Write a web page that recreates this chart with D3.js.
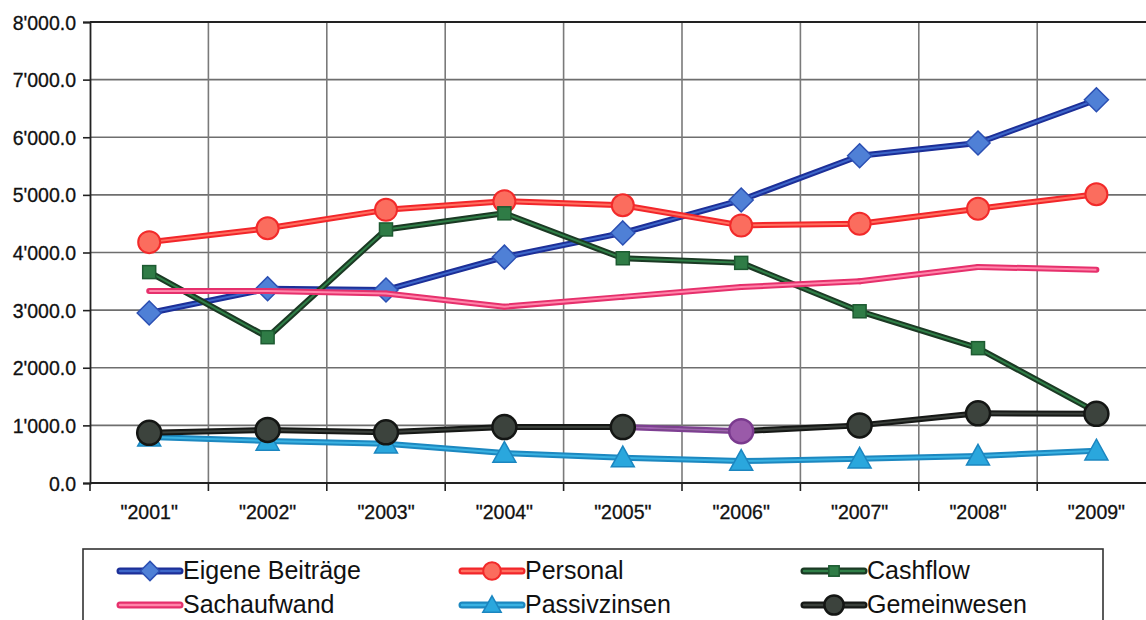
<!DOCTYPE html>
<html>
<head>
<meta charset="utf-8">
<script src="https://cdn.jsdelivr.net/npm/d3@7"></script>
<style>
  html, body { margin: 0; padding: 0; background: #fff; overflow: hidden; }
  svg { display: block; font-family: "Liberation Sans", Arial, sans-serif; }
</style>
</head>
<body>
<div id="chart"></div>
<script>
const width = 1146;
const height = 620;
const margin = { top: 22, right: -10, bottom: 137, left: 90 };

const usableArea = {
  top: margin.top,
  right: width - margin.right,
  bottom: height - margin.bottom,
  left: margin.left,
};

// chart values
const years = ["2001", "2002", "2003", "2004", "2005", "2006", "2007", "2008", "2009"];
const eigeneBeitraege = [2950, 3370, 3350, 3920, 4340, 4910, 5680, 5900, 6650];
const personal = [4180, 4420, 4740, 4890, 4820, 4470, 4500, 4760, 5010];
const cashflow = [3660, 2530, 4400, 4680, 3900, 3820, 2980, 2340, 1230];
const sachaufwand = [3330, 3330, 3290, 3060, 3230, 3400, 3500, 3750, 3700];
const passivzinsen = [800, 730, 680, 520, 440, 380, 420, 470, 560];
const gemeinwesen = [870, 920, 880, 970, 970, 900, 1000, 1210, 1200];
const gemeinwesenHighlight = ["2006"]; // point (and segment leading to it) drawn in purple
const yTicks = [0, 1000, 2000, 3000, 4000, 5000, 6000, 7000, 8000];

const series = [
  { name: "Eigene Beiträge", values: eigeneBeitraege, marker: "diamond",
    outer: "#1c2f98", inner: "#3d66c9", fill: "#4f80d6", stroke: "#2b4fb3" },
  { name: "Personal", values: personal, marker: "circle",
    outer: "#f2262a", inner: "#ff6f60", fill: "#fb6d5e", stroke: "#f22a2a" },
  { name: "Cashflow", values: cashflow, marker: "square",
    outer: "#1b3a24", inner: "#2f7f47", fill: "#2f7c46", stroke: "#1d5a31" },
  { name: "Sachaufwand", values: sachaufwand, marker: null,
    outer: "#e6306c", inner: "#ff85aa" },
  { name: "Passivzinsen", values: passivzinsen, marker: "triangle",
    outer: "#1c88c0", inner: "#3ab2e2", fill: "#2aa7dd", stroke: "#1b86c0" },
  { name: "Gemeinwesen", values: gemeinwesen, marker: "bigcircle",
    outer: "#161816", inner: "#3b403b", fill: "#3c433d", stroke: "#141614",
    hiOuter: "#7e3f92", hiInner: "#9f62b0", hiFill: "#9a5aa9", hiStroke: "#7a3a8e" },
];

const svg = d3.select("#chart")
  .append("svg")
  .attr("width", width)
  .attr("height", height)
  .attr("viewBox", `0 0 ${width} ${height}`);

const xScale = d3.scaleBand()
  .domain(years)
  .range([usableArea.left, usableArea.left + 9 * 118.4]);

const cx = (d) => xScale(d) + xScale.bandwidth() / 2;

const yScale = d3.scaleLinear()
  .domain([0, 8000])
  .range([usableArea.bottom, usableArea.top]);

const fmt = d3.formatLocale({ decimal: ".", thousands: "'", grouping: [3], currency: ["", ""] }).format(",.1f");

// gridlines
const grid = svg.append("g").attr("class", "grid");
grid.selectAll("line.h")
  .data(yTicks.filter((d) => d > 0 && d < 8000))
  .join("line")
  .attr("x1", usableArea.left).attr("x2", width)
  .attr("y1", (d) => yScale(d)).attr("y2", (d) => yScale(d))
  .attr("stroke", "#6e6e6e").attr("stroke-width", 1.6);

grid.selectAll("line.v")
  .data(years.slice(1))
  .join("line")
  .attr("x1", (d) => xScale(d)).attr("x2", (d) => xScale(d))
  .attr("y1", usableArea.top).attr("y2", usableArea.bottom)
  .attr("stroke", "#7a7a7a").attr("stroke-width", 1.6);

// top border
svg.append("line")
  .attr("x1", usableArea.left).attr("x2", width)
  .attr("y1", usableArea.top).attr("y2", usableArea.top)
  .attr("stroke", "#222").attr("stroke-width", 1.8);

// y axis
const yAxis = d3.axisLeft(yScale).tickValues(yTicks).tickFormat(fmt).tickSize(7).tickPadding(7);
const yg = svg.append("g")
  .attr("transform", `translate(${usableArea.left},0)`)
  .call(yAxis);
yg.select(".domain").attr("stroke", "#222").attr("stroke-width", 1.8);
yg.selectAll(".tick line").attr("stroke", "#222").attr("stroke-width", 1.6);
yg.selectAll("text").attr("fill", "#111").style("font-size", "19.5px")
  .attr("dy", "0.36em").attr("stroke", "#111").attr("stroke-width", 0.3);

// x axis
const xg = svg.append("g")
  .attr("transform", `translate(0,${usableArea.bottom})`);
xg.append("line")
  .attr("x1", usableArea.left).attr("x2", width)
  .attr("stroke", "#222").attr("stroke-width", 1.8);
xg.selectAll("line.tk")
  .data(years)
  .join("line")
  .attr("x1", (d) => xScale(d)).attr("x2", (d) => xScale(d))
  .attr("y1", 0).attr("y2", 8)
  .attr("stroke", "#222").attr("stroke-width", 1.6);
xg.selectAll("text")
  .data(years)
  .join("text")
  .attr("x", cx)
  .attr("y", 36)
  .attr("text-anchor", "middle")
  .attr("fill", "#111")
  .attr("stroke", "#111").attr("stroke-width", 0.3)
  .style("font-size", "19.5px")
  .text((d) => `"${d}"`);

// markers
function drawMarker(g, type, x, y, fill, stroke, scale = 1) {
  if (type === "diamond") {
    const s = 12 * scale;
    g.append("path")
      .attr("d", `M${x},${y - s}L${x + s},${y}L${x},${y + s}L${x - s},${y}Z`)
      .attr("fill", fill).attr("stroke", stroke).attr("stroke-width", 1.5);
  } else if (type === "circle") {
    g.append("circle").attr("cx", x).attr("cy", y).attr("r", 11 * scale)
      .attr("fill", fill).attr("stroke", stroke).attr("stroke-width", 2);
  } else if (type === "bigcircle") {
    g.append("circle").attr("cx", x).attr("cy", y).attr("r", 12 * scale)
      .attr("fill", fill).attr("stroke", stroke).attr("stroke-width", 2.5);
  } else if (type === "square") {
    const s = 6.5 * scale;
    g.append("rect").attr("x", x - s).attr("y", y - s).attr("width", 2 * s).attr("height", 2 * s)
      .attr("fill", fill).attr("stroke", stroke).attr("stroke-width", 1.5);
  } else if (type === "triangle") {
    const s = 11.5 * scale;
    g.append("path")
      .attr("d", `M${x},${y - s}L${x + s},${y + s * 0.8}L${x - s},${y + s * 0.8}Z`)
      .attr("fill", fill).attr("stroke", stroke).attr("stroke-width", 1.5);
  }
}

const plot = svg.append("g").attr("class", "series");
for (const s of series) {
  const g = plot.append("g");
  const pts = years.map((yr, i) => [cx(yr), yScale(s.values[i]), yr]);
  const line = d3.line().x((d) => d[0]).y((d) => d[1]);
  for (let i = 1; i < pts.length; i++) {
    const hi = s.hiOuter && gemeinwesenHighlight.includes(pts[i][2]);
    g.append("path").attr("d", line([pts[i - 1], pts[i]])).attr("fill", "none")
      .attr("stroke", hi ? s.hiOuter : s.outer).attr("stroke-width", 6).attr("stroke-linecap", "round");
  }
  g.append("path")
    .attr("d", line(pts))
    .attr("fill", "none").attr("stroke", s.inner).attr("stroke-width", 2)
    .attr("stroke-linejoin", "round");
  for (let i = 1; i < pts.length; i++) {
    if (s.hiOuter && gemeinwesenHighlight.includes(pts[i][2])) {
      g.append("path").attr("d", line([pts[i - 1], pts[i]]))
        .attr("fill", "none").attr("stroke", s.hiInner).attr("stroke-width", 2);
    }
  }
  if (s.marker) {
    pts.forEach(([x, y, yr]) => {
      const hi = s.hiFill && gemeinwesenHighlight.includes(yr);
      drawMarker(g, s.marker, x, y, hi ? s.hiFill : s.fill, hi ? s.hiStroke : s.stroke);
    });
  }
}

// legend
const legend = svg.append("g").attr("class", "legend");
legend.append("rect")
  .attr("x", 83).attr("y", 549).attr("width", 1020).attr("height", 90)
  .attr("fill", "#fff").attr("stroke", "#333").attr("stroke-width", 1.6);

const legendCols = [120, 462, 804];
const legendRows = [571, 605];
series.forEach((s, i) => {
  const x0 = legendCols[i % 3];
  const y0 = legendRows[Math.floor(i / 3)];
  const g = legend.append("g");
  g.append("line").attr("x1", x0).attr("x2", x0 + 60).attr("y1", y0).attr("y2", y0)
    .attr("stroke", s.outer).attr("stroke-width", 7).attr("stroke-linecap", "round");
  g.append("line").attr("x1", x0).attr("x2", x0 + 60).attr("y1", y0).attr("y2", y0)
    .attr("stroke", s.inner).attr("stroke-width", 2.5).attr("stroke-linecap", "round");
  if (s.marker) drawMarker(g, s.marker, x0 + 30, y0, s.fill, s.stroke, 0.8);
  g.append("text")
    .attr("x", x0 + 63).attr("y", y0 + 8)
    .attr("fill", "#111")
    .style("font-size", "25px")
    .text(s.name);
});
</script>
</body>
</html>
